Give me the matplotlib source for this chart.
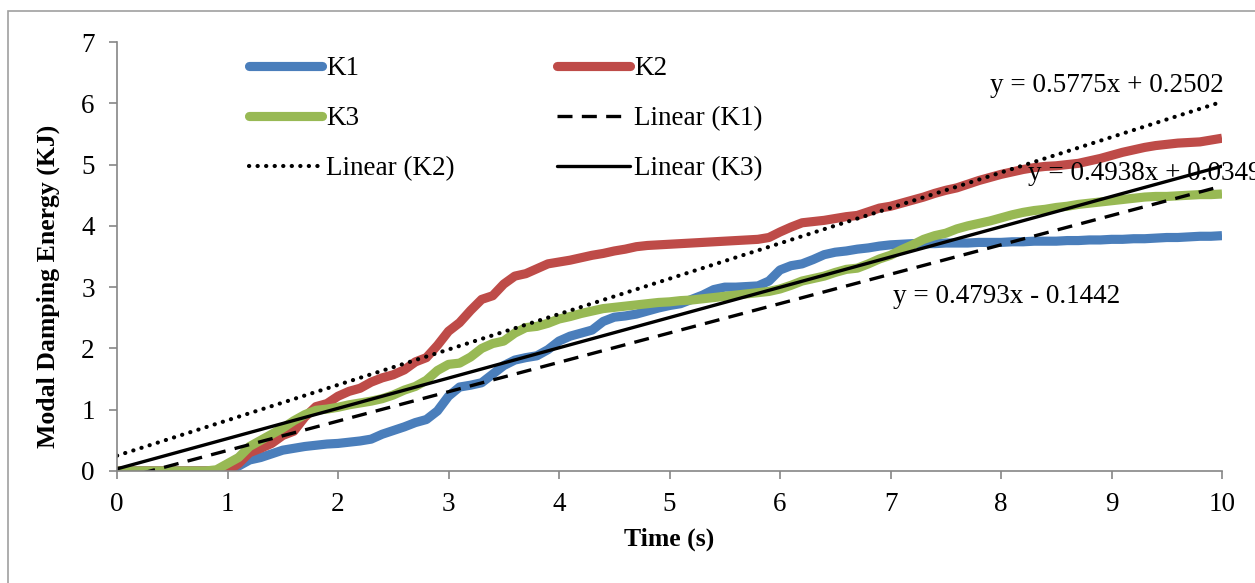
import numpy as np
import matplotlib
matplotlib.use("Agg")
import matplotlib.pyplot as plt
from matplotlib.patches import Rectangle

plt.rcParams['font.family'] = ['Liberation Serif', 'DejaVu Serif']

# Time axis (s)
time = np.round(np.arange(0, 10.01, 0.1), 1)

# Modal damping energy (KJ) for each case
k1 = [0, 0, 0, 0, 0, 0, 0, 0, 0, 0, 0,
      0.08, 0.18, 0.22, 0.28, 0.34, 0.37, 0.40, 0.42, 0.44, 0.45,
      0.47, 0.49, 0.52, 0.60, 0.66, 0.72, 0.79, 0.84, 0.98, 1.22,
      1.37, 1.40, 1.44, 1.58, 1.72, 1.81, 1.85, 1.88, 1.98, 2.12,
      2.20, 2.25, 2.30, 2.44, 2.51, 2.53, 2.56, 2.61, 2.66, 2.70,
      2.73, 2.80, 2.87, 2.96, 3.00, 3.00, 3.01, 3.02, 3.10, 3.28,
      3.35, 3.38, 3.45, 3.53, 3.57, 3.59, 3.62, 3.64, 3.67, 3.69,
      3.70, 3.71, 3.71, 3.71, 3.72, 3.72, 3.72, 3.73, 3.73, 3.73,
      3.74, 3.74, 3.75, 3.75, 3.75, 3.76, 3.76, 3.77, 3.77, 3.78,
      3.78, 3.79, 3.79, 3.80, 3.81, 3.81, 3.82, 3.83, 3.83, 3.84]

k2 = [0, 0, 0, 0, 0, 0, 0, 0, 0, 0, 0,
      0.12, 0.30, 0.37, 0.45, 0.58, 0.65, 0.88, 1.05, 1.10, 1.22,
      1.30, 1.35, 1.45, 1.52, 1.57, 1.65, 1.78, 1.85, 2.05, 2.28,
      2.42, 2.62, 2.80, 2.86, 3.05, 3.18, 3.22, 3.30, 3.38, 3.41,
      3.44, 3.48, 3.52, 3.55, 3.59, 3.62, 3.66, 3.68, 3.69, 3.70,
      3.71, 3.72, 3.73, 3.74, 3.75, 3.76, 3.77, 3.78, 3.81, 3.90,
      3.98, 4.05, 4.07, 4.09, 4.12, 4.15, 4.17, 4.23, 4.29, 4.32,
      4.37, 4.42, 4.47, 4.53, 4.58, 4.62, 4.68, 4.74, 4.79, 4.84,
      4.88, 4.92, 4.95, 4.97, 4.98, 5.00, 5.02, 5.06, 5.10, 5.15,
      5.20, 5.24, 5.28, 5.31, 5.33, 5.35, 5.36, 5.37, 5.40, 5.43]

k3 = [0, 0, 0, 0, 0, 0, 0, 0, 0, 0.02, 0.12,
      0.22, 0.40, 0.50, 0.60, 0.70, 0.82, 0.92, 0.99, 1.01, 1.04,
      1.08, 1.11, 1.14, 1.18, 1.24, 1.32, 1.38, 1.48, 1.64, 1.74,
      1.76, 1.86, 2.00, 2.08, 2.12, 2.25, 2.34, 2.36, 2.41, 2.48,
      2.52, 2.57, 2.61, 2.65, 2.67, 2.69, 2.71, 2.73, 2.75, 2.76,
      2.78, 2.79, 2.81, 2.83, 2.85, 2.87, 2.89, 2.91, 2.93, 2.97,
      3.03, 3.10, 3.14, 3.18, 3.24, 3.29, 3.31, 3.38, 3.46, 3.52,
      3.61, 3.69, 3.78, 3.84, 3.88, 3.95, 4.00, 4.04, 4.08, 4.13,
      4.18, 4.22, 4.25, 4.27, 4.30, 4.32, 4.35, 4.37, 4.39, 4.41,
      4.43, 4.45, 4.47, 4.48, 4.48, 4.49, 4.50, 4.51, 4.51, 4.52]

# Linear trendline coefficients (slope, intercept)
trend_k1 = (0.4793, -0.1442)
trend_k2 = (0.5775, 0.2502)
trend_k3 = (0.4938, 0.0349)

x_ticks = list(range(0, 11))
y_ticks = list(range(0, 8))

blue = '#4A7EBB'
red = '#BE4B48'
green = '#98B954'
axis_gray = '#868686'

W, H = 1255, 583
fig = plt.figure(figsize=(W / 100, H / 100), dpi=100)
fig.patch.set_facecolor('white')

# outer chart border
fig.patches.append(Rectangle((8 / W, -0.05), 1.2, 1 - 11 / H + 0.05,
                             transform=fig.transFigure, fill=False,
                             edgecolor='#A0A0A0', linewidth=1.2))

ax = fig.add_axes([117 / W, 1 - 471 / H, (1222 - 117) / W, (471 - 42) / H])

lw_series = 6.6
l1, = ax.plot(time, k1, color=blue, lw=lw_series, solid_capstyle='butt',
              solid_joinstyle='round', label='K1')
l2, = ax.plot(time, k2, color=red, lw=lw_series, solid_capstyle='butt',
              solid_joinstyle='round', label='K2')
l3, = ax.plot(time, k3, color=green, lw=lw_series, solid_capstyle='butt',
              solid_joinstyle='round', label='K3')

xt = np.array([0.0, 10.0])
t1, = ax.plot(xt, trend_k1[0] * xt + trend_k1[1], color='black', lw=2.4,
              linestyle=(0, (4.5, 2.8)), label='Linear (K1)')
t2, = ax.plot(xt, trend_k2[0] * xt + trend_k2[1], color='black', lw=3.0,
              linestyle=(0, (0.05, 2.0)), dash_capstyle='round',
              label='Linear (K2)')
t3, = ax.plot(xt, trend_k3[0] * xt + trend_k3[1], color='black', lw=2.4,
              label='Linear (K3)')

ax.set_xlim(0, 10)
ax.set_ylim(0, 7)
ax.set_xticks(x_ticks)
ax.set_yticks(y_ticks)
ax.tick_params(axis='both', direction='out', length=6, width=1.2,
               color=axis_gray, labelsize=19.5)
ax.tick_params(axis='y', pad=10)
ax.tick_params(axis='x', pad=9)
for s in ('top', 'right'):
    ax.spines[s].set_visible(False)
for s in ('left', 'bottom'):
    ax.spines[s].set_color(axis_gray)
    ax.spines[s].set_linewidth(1.2)

ax.set_xlabel('Time (s)', fontsize=18.5, fontweight='bold', labelpad=8)
ax.set_ylabel('Modal Damping Energy (KJ)', fontsize=18.5, fontweight='bold')
ax.yaxis.set_label_coords(-0.052, 0.43)

def eq_text(coef):
    a, b = coef
    sign = '+' if b >= 0 else '-'
    return f'y = {a:.4f}x {sign} {abs(b):.4f}'

ax.text(7.9, 6.29, eq_text(trend_k2), fontsize=19.5, va='center', ha='left',
        clip_on=False)
ax.text(8.24, 4.86, eq_text(trend_k3), fontsize=19.5, va='center', ha='left',
        clip_on=False)
ax.text(7.02, 2.85, eq_text(trend_k1), fontsize=19.5, va='center', ha='left',
        clip_on=False)

leg = ax.legend([l1, l3, t2, l2, t1, t3],
                ['K1', 'K3', 'Linear (K2)', 'K2', 'Linear (K1)', 'Linear (K3)'],
                ncol=2, loc='upper left', bbox_to_anchor=(0.105, 1.005),
                frameon=False, fontsize=19.5, handlelength=2.7,
                handletextpad=0.15, columnspacing=3.75, labelspacing=0.93,
                borderaxespad=0.2)
for h in leg.get_lines():
    h.set_solid_capstyle('round')

fig.savefig('out.png', dpi=100, facecolor='white')
